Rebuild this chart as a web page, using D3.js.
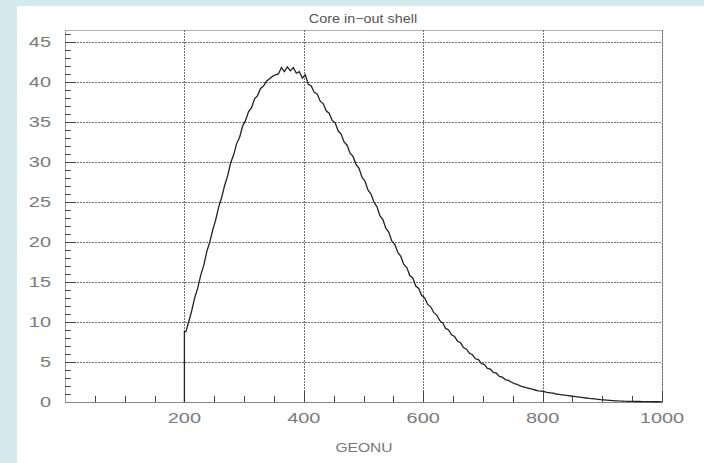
<!DOCTYPE html>
<html>
<head>
<meta charset="utf-8">
<script src="https://cdn.jsdelivr.net/npm/d3@7"></script>
<style>
  html, body { margin: 0; padding: 0; background: #d4e9ec; }
  svg { display: block; }
  text { font-family: "Liberation Sans", Arial, sans-serif; }
</style>
</head>
<body>
<div id="chart"></div>
<script>
// histogram data: bins of width 5 starting at 200
const binStart = 200;
const binWidth = 5;
const counts = [
  8.8, 10.1, 11.5, 13.1, 14.3, 15.9, 17.1, 18.8, 20.0, 21.5,
  22.8, 24.4, 25.6, 27.1, 28.3, 29.9, 30.9, 32.3, 33.1, 34.5,
  35.2, 36.3, 36.8, 37.9, 38.3, 39.2, 39.5, 40.1, 40.4, 40.7,
  40.9, 41.0, 41.8, 41.3, 41.9, 41.4, 41.8, 41.1, 41.3, 40.5,
  40.9, 39.7, 39.5, 38.7, 38.5, 37.6, 37.3, 36.4, 36.1, 35.2,
  34.9, 33.9, 33.5, 32.5, 32.1, 31.1, 30.7, 29.7, 29.2, 28.1,
  27.6, 26.5, 26.0, 25.0, 24.4, 23.3, 22.8, 21.7, 21.2, 20.1,
  19.7, 18.7, 18.2, 17.2, 16.8, 15.8, 15.5, 14.5, 14.2, 13.3,
  13.0, 12.2, 11.9, 11.2, 10.9, 10.2, 9.9, 9.2, 9.0, 8.4,
  8.2, 7.6, 7.4, 6.8, 6.6, 6.1, 5.9, 5.4, 5.3, 4.8,
  4.7, 4.2, 4.1, 3.7, 3.6, 3.2, 3.1, 2.8, 2.7, 2.5,
  2.3, 2.2, 2.0, 1.9, 1.8, 1.7, 1.6, 1.5, 1.4, 1.35,
  1.3, 1.2, 1.15, 1.1, 1.0, 0.95, 0.9, 0.85, 0.8, 0.75,
  0.7, 0.65, 0.6, 0.55, 0.5, 0.45, 0.42, 0.38, 0.34, 0.3,
  0.27, 0.24, 0.21, 0.18, 0.15, 0.13, 0.12, 0.1, 0.09, 0.08,
  0.07, 0.06, 0.06, 0.05, 0.05, 0.04, 0.04, 0.03, 0.03, 0.02
];
const xTickLabels = [200, 400, 600, 800, 1000];
const yTickLabels = [0, 5, 10, 15, 20, 25, 30, 35, 40, 45];
const title = "Core in\u2212out shell";
const xTitle = "GEONU";

const W = 704, H = 463;
const svg = d3.select("#chart").append("svg")
    .attr("width", W).attr("height", H);

// white panel on the blue page
svg.append("rect")
    .attr("x", 17).attr("y", 6)
    .attr("width", W - 17).attr("height", H - 6)
    .attr("fill", "#fff");

const x = d3.scaleLinear().domain([0, 1000]).range([65, 662]);
const y = d3.scaleLinear().domain([0, 46.5]).range([402, 30]);

const grid = svg.append("g").attr("shape-rendering", "crispEdges");

// frame
grid.append("rect")
    .attr("x", x(0) + 0.5).attr("y", y(46.5) + 0.5)
    .attr("width", x(1000) - x(0)).attr("height", y(0) - y(46.5))
    .attr("fill", "none")
    .attr("stroke", "#b0b0b0");

// dotted grid
grid.selectAll(".hgrid")
    .data(yTickLabels.filter(d => d > 0))
    .join("line")
    .attr("x1", x(0)).attr("x2", x(1000))
    .attr("y1", d => Math.round(y(d)) + 0.5)
    .attr("y2", d => Math.round(y(d)) + 0.5)
    .attr("stroke", "#707070")
    .attr("stroke-dasharray", "2,1");

grid.selectAll(".vgrid")
    .data(xTickLabels)
    .join("line")
    .attr("y1", y(46.5)).attr("y2", y(0))
    .attr("x1", d => Math.round(x(d)) + 0.5)
    .attr("x2", d => Math.round(x(d)) + 0.5)
    .attr("stroke", "#707070")
    .attr("stroke-dasharray", "2,1");

// axis lines
grid.append("line")
    .attr("x1", x(0)).attr("x2", x(1000))
    .attr("y1", y(0) + 0.5).attr("y2", y(0) + 0.5)
    .attr("stroke", "#888");
grid.append("line")
    .attr("x1", x(0) + 0.5).attr("x2", x(0) + 0.5)
    .attr("y1", y(0)).attr("y2", y(46.5))
    .attr("stroke", "#999");

// ticks: x every 50, y every 1
const xMinor = d3.range(50, 1001, 50);
grid.selectAll(".xtick")
    .data(xMinor)
    .join("line")
    .attr("x1", d => Math.round(x(d)) + 0.5)
    .attr("x2", d => Math.round(x(d)) + 0.5)
    .attr("y1", y(0))
    .attr("y2", d => y(0) - (d % 200 === 0 ? 11 : 6))
    .attr("stroke", "#444");

const yMinor = d3.range(1, 47, 1);
grid.selectAll(".ytick")
    .data(yMinor)
    .join("line")
    .attr("y1", d => Math.round(y(d)) + 0.5)
    .attr("y2", d => Math.round(y(d)) + 0.5)
    .attr("x1", x(0))
    .attr("x2", d => x(0) + (d % 5 === 0 ? 11 : 6))
    .attr("stroke", "#444");

// the lettering in the original is stretched sideways
const stretch = 1.33;

svg.selectAll(".xlab")
    .data(xTickLabels)
    .join("text")
    .attr("transform", d => `translate(${x(d)},${y(0) + 21}) scale(${stretch},1)`)
    .attr("text-anchor", "middle")
    .attr("font-size", 15)
    .attr("fill", "#7a7a7a")
    .text(d => d);

svg.selectAll(".ylab")
    .data(yTickLabels)
    .join("text")
    .attr("transform", d => `translate(51,${y(d)}) scale(${stretch},1)`)
    .attr("dy", "0.36em")
    .attr("text-anchor", "end")
    .attr("font-size", 15)
    .attr("fill", "#7a7a7a")
    .text(d => d);

// histogram outline, drawn through the bin centres
const points = [{x: binStart, v: 0}, {x: binStart, v: counts[0]}]
    .concat(counts.map((v, i) => ({x: binStart + (i + 0.5) * binWidth, v})))
    .concat([{x: binStart + counts.length * binWidth, v: counts[counts.length - 1]}]);

const line = d3.line()
    .x(d => x(d.x))
    .y(d => y(d.v));

svg.append("path")
    .datum(points)
    .attr("d", line)
    .attr("fill", "none")
    .attr("stroke", "#222")
    .attr("stroke-width", 1.3);

// titles
svg.append("text")
    .attr("transform", `translate(363,23) scale(1.15,1)`)
    .attr("text-anchor", "middle")
    .attr("font-size", 12.5)
    .attr("fill", "#555")
    .text(title);

svg.append("text")
    .attr("transform", `translate(364,452) scale(1.2,1)`)
    .attr("text-anchor", "middle")
    .attr("font-size", 13)
    .attr("fill", "#777")
    .text(xTitle);
</script>
</body>
</html>
